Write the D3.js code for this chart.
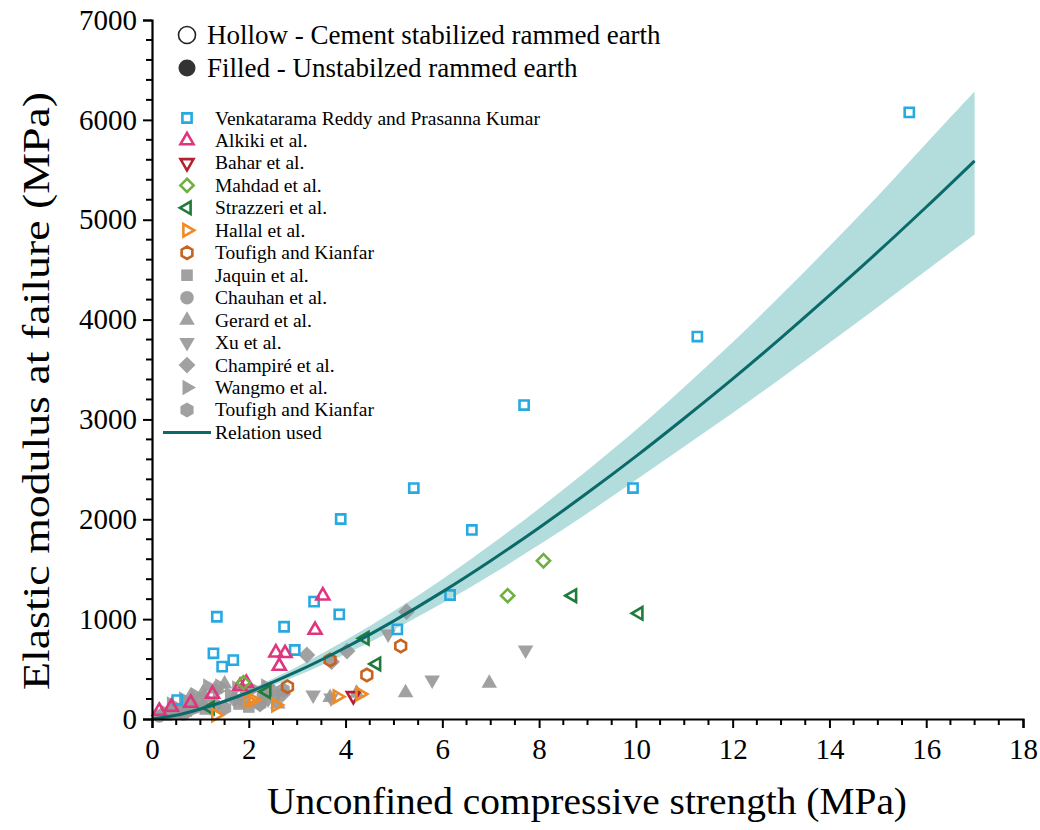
<!DOCTYPE html>
<html><head><meta charset="utf-8">
<script src="https://cdn.jsdelivr.net/npm/d3@7"></script>
<style>
html,body{margin:0;padding:0;background:#fff;}
svg text{font-family:"Liberation Serif","Times New Roman",serif;}
</style></head>
<body>
<svg id="chart" width="1040" height="830"></svg>
<script>
// ---------------- data ----------------
const xTicks = [0,2,4,6,8,10,12,14,16,18];
const yTicks = [0,1000,2000,3000,4000,5000,6000,7000];

// Hollow - cement stabilized
const venkatarama = [[0.52,190],[1.27,658],[1.45,524],[1.68,590],[1.34,1024],[2.73,924],[2.95,691],[3.35,1175],[3.87,1048],[3.90,2003],[5.41,2313],[6.61,1893],[6.16,1242],[5.07,898],[7.69,3144],[9.94,2313],[11.27,3830],[15.65,6075]];
const alkiki = [[3.53,1235],[3.37,891],[2.56,664],[2.75,658],[2.63,531],[1.82,330],[1.95,360],[0.15,80],[0.4,120],[0.8,160],[1.25,250]];
const bahar = [[4.16,232]];
const mahdad = [[1.89,364],[8.09,1585],[7.35,1235]];
const strazzeri = [[8.69,1235],[10.06,1058],[4.64,551],[4.40,808],[2.37,273],[1.2,110]];
const hallal = [[2.56,140],[3.83,223],[4.30,250],[1.32,40],[2.09,190],[1.98,190]];
const toufighHollow = [[5.14,731],[4.44,441],[2.80,323],[3.68,591]];

// Filled - unstabilized
const jaquin = [[0.3,40],[0.7,80],[1.1,100],[1.8,150],[2.0,120],[0.5,60]];
const chauhan = [[0.15,30],[0.4,70],[0.9,120],[1.3,140],[1.9,180],[2.3,240],[0.65,50]];
const gerard = [[0.2,50],[0.45,100],[0.8,230],[1.05,260],[1.3,300],[1.5,350],[3.68,215],[4.23,257],[5.24,263],[6.97,357],[2.6,150]];
const xu = [[3.33,240],[5.79,390],[7.72,691],[4.88,850],[3.7,210],[1.2,120],[2.4,200]];
const champire = [[5.26,1075],[4.03,680],[3.20,641],[3.71,574],[2.23,150],[2.7,250],[1.0,150],[1.7,200],[2.45,300],[0.6,90]];
const wangmo = [[0.3,60],[0.5,110],[0.7,180],[0.9,240],[1.1,200],[1.4,330],[1.6,250],[0.95,130],[1.15,330],[1.35,280],[1.75,310],[2.1,300],[2.35,330],[0.65,200],[0.4,150]];
const toufighFilled = [[2.23,150],[2.71,290],[2.5,230],[1.5,110],[0.8,100],[1.95,280]];

// Relation used (curve and band)
const relX  = [0,0.5,1,1.5,2,3,4,5,6,7,8,9,10,11,12,13,14,15,16,17];
const relY  = [0,37,100,178,268,476,716,983,1273,1585,1916,2265,2630,3012,3406,3817,4242,4677,5127,5590];
const relLo = [0,34,91,162,244,433,652,895,1158,1442,1744,2061,2393,2729,3065,3412,3767,4125,4491,4852];
const relHi = [0,41,110,196,295,524,788,1081,1400,1744,2108,2492,2893,3325,3774,4245,4734,5238,5763,6283];

// ---------------- layout ----------------
const svg = d3.select("#chart");
const X0 = 152, X1 = 1023, Y0 = 719, Y1 = 20;
const x = d3.scaleLinear().domain([0,18]).range([X0,X1]);
const y = d3.scaleLinear().domain([0,7000]).range([Y0,Y1]);

// band
const band = relX.map((v,i)=>({x:v,lo:relLo[i],hi:relHi[i],y:relY[i]}));
svg.append("path").datum(band)
  .attr("d", d3.area().x(d=>x(d.x)).y0(d=>y(d.lo)).y1(d=>y(d.hi)).curve(d3.curveCatmullRom))
  .attr("fill","#b3dcdc");

// marker shapes
function hexPath(r){const p=[];for(let i=0;i<6;i++){const a=Math.PI/6+i*Math.PI/3;p.push([r*Math.cos(a),r*Math.sin(a)]);}return "M"+p.map(q=>q.join(",")).join("L")+"Z";}
function triPath(r,rot){const p=[];for(let i=0;i<3;i++){const a=(rot-90+i*120)*Math.PI/180;p.push([r*Math.cos(a),r*Math.sin(a)]);}return "M"+p.map(q=>q.join(",")).join("L")+"Z";}
function sqPath(s){return `M${-s},${-s}H${s}V${s}H${-s}Z`;}
function diaPath(s){return `M0,${-s}L${s},0L0,${s}L${-s},0Z`;}
function circPath(r){return `M${r},0A${r},${r} 0 1,1 ${-r},0A${r},${r} 0 1,1 ${r},0Z`;}

const shapes = {
  hSquare: ()=>sqPath(4.6),
  hTriUp: ()=>triPath(7.5,0),
  hTriDown: ()=>triPath(7.5,180),
  hDiamond: ()=>diaPath(6.6),
  hTriLeft: ()=>triPath(7.2,-90),
  hTriRight: ()=>triPath(7.2,90),
  hHex: ()=>hexPath(6.2),
  fSquare: ()=>sqPath(5.8),
  fCircle: ()=>circPath(6.8),
  fTriUp: ()=>triPath(9,0),
  fTriDown: ()=>triPath(9,180),
  fDiamond: ()=>diaPath(8.4),
  fTriRight: ()=>triPath(9,90),
  fHex: ()=>hexPath(7.6)
};

const GRAY = "#999999";
const series = [
  {name:"Jaquin et al.", data:jaquin, shape:"fSquare", color:GRAY, filled:true},
  {name:"Chauhan et al.", data:chauhan, shape:"fCircle", color:GRAY, filled:true},
  {name:"Gerard et al.", data:gerard, shape:"fTriUp", color:GRAY, filled:true},
  {name:"Xu et al.", data:xu, shape:"fTriDown", color:GRAY, filled:true},
  {name:"Champiré et al.", data:champire, shape:"fDiamond", color:GRAY, filled:true},
  {name:"Wangmo et al.", data:wangmo, shape:"fTriRight", color:GRAY, filled:true},
  {name:"Toufigh and Kianfar", data:toufighFilled, shape:"fHex", color:GRAY, filled:true},
  {name:"Venkatarama Reddy and Prasanna Kumar", data:venkatarama, shape:"hSquare", color:"#27a9e1", filled:false},
  {name:"Alkiki et al.", data:alkiki, shape:"hTriUp", color:"#e0357e", filled:false},
  {name:"Bahar et al.", data:bahar, shape:"hTriDown", color:"#b5202f", filled:false},
  {name:"Mahdad et al.", data:mahdad, shape:"hDiamond", color:"#6fb043", filled:false},
  {name:"Strazzeri et al.", data:strazzeri, shape:"hTriLeft", color:"#1e7b3a", filled:false},
  {name:"Hallal et al.", data:hallal, shape:"hTriRight", color:"#ef8a25", filled:false},
  {name:"Toufigh and Kianfar", data:toufighHollow, shape:"hHex", color:"#c8621f", filled:false}
];

function drawMarker(g, s){
  g.attr("d", shapes[s.shape]());
  if(s.filled){ g.attr("fill", s.color).attr("fill-opacity",0.92).attr("stroke","none"); }
  else { g.attr("fill","none").attr("stroke", s.color).attr("stroke-width",2.6).attr("stroke-linejoin","miter"); }
}

const pts = svg.append("g");
series.forEach(s=>{
  pts.selectAll(null).data(s.data).enter().append("path")
    .attr("transform", d=>`translate(${x(d[0])},${y(d[1])})`)
    .each(function(){ drawMarker(d3.select(this), s); });
});

// relation line
svg.append("path").datum(band)
  .attr("d", d3.line().x(d=>x(d.x)).y(d=>y(d.y)).curve(d3.curveCatmullRom))
  .attr("fill","none").attr("stroke","#0a6a6a").attr("stroke-width",3);

// axes
const xAxis = d3.axisBottom(x).tickValues(xTicks).tickSize(9).tickPadding(10).tickFormat(d3.format("d"));
const gx = svg.append("g").attr("transform",`translate(0,${Y0})`).call(xAxis);
const xMinor = d3.range(0,18.01,0.5).filter(v=>v%2!==0);
gx.selectAll(".minor").data(xMinor).enter().append("line")
  .attr("x1",d=>x(d)).attr("x2",d=>x(d)).attr("y1",0).attr("y2",6).attr("stroke","#000").attr("stroke-width",2);
const yAxis = d3.axisLeft(y).tickValues(yTicks).tickSize(9).tickPadding(6).tickFormat(d3.format("d"));
const gy = svg.append("g").attr("transform",`translate(${X0},0)`).call(yAxis);
const yMinor = d3.range(0,7001,200).filter(v=>v%1000!==0);
gy.selectAll(".minor").data(yMinor).enter().append("line")
  .attr("y1",d=>y(d)).attr("y2",d=>y(d)).attr("x1",0).attr("x2",-6).attr("stroke","#000").attr("stroke-width",2);
[gx,gy].forEach(g=>{
  g.select(".domain").attr("stroke","#000").attr("stroke-width",2.2);
  g.selectAll(".tick line").attr("stroke","#000").attr("stroke-width",2);
  g.selectAll(".tick text").attr("fill","#000").style("font-size","29px").style("font-family","'Liberation Serif',serif");
});

// axis titles
svg.append("text").attr("x",587).attr("y",814).attr("text-anchor","middle")
  .attr("textLength",640).attr("lengthAdjust","spacingAndGlyphs")
  .style("font-size","38px").text("Unconfined compressive strength (MPa)");
svg.append("text").attr("transform",`translate(49,391) rotate(-90)`).attr("text-anchor","middle")
  .attr("textLength",598).attr("lengthAdjust","spacingAndGlyphs")
  .style("font-size","37px").text("Elastic modulus at failure (MPa)");

// top legend
const lg = svg.append("g");
lg.append("circle").attr("cx",187).attr("cy",35).attr("r",8.5).attr("fill","#fff").attr("stroke","#222").attr("stroke-width",1.6);
lg.append("text").attr("x",207).attr("y",44).style("font-size","27px").text("Hollow - Cement stabilized rammed earth");
lg.append("circle").attr("cx",187).attr("cy",68).attr("r",8.5).attr("fill","#333");
lg.append("text").attr("x",207).attr("y",77).style("font-size","27px").text("Filled - Unstabilzed rammed earth");

// series legend
const legendOrder = series.slice(7).concat(series.slice(0,7));
legendOrder.forEach((s,i)=>{
  const yy = 118 + i*22.46;
  const m = lg.append("path").attr("transform",`translate(187,${yy})`);
  drawMarker(m, s);
  lg.append("text").attr("x",215).attr("y",yy+6.5).style("font-size","19.5px").text(s.name);
});
const yr = 118 + 14*22.46;
lg.append("line").attr("x1",163).attr("x2",211).attr("y1",yr).attr("y2",yr).attr("stroke","#0a6a6a").attr("stroke-width",3);
lg.append("text").attr("x",215).attr("y",yr+6.5).style("font-size","19.5px").text("Relation used");
</script>
</body></html>
